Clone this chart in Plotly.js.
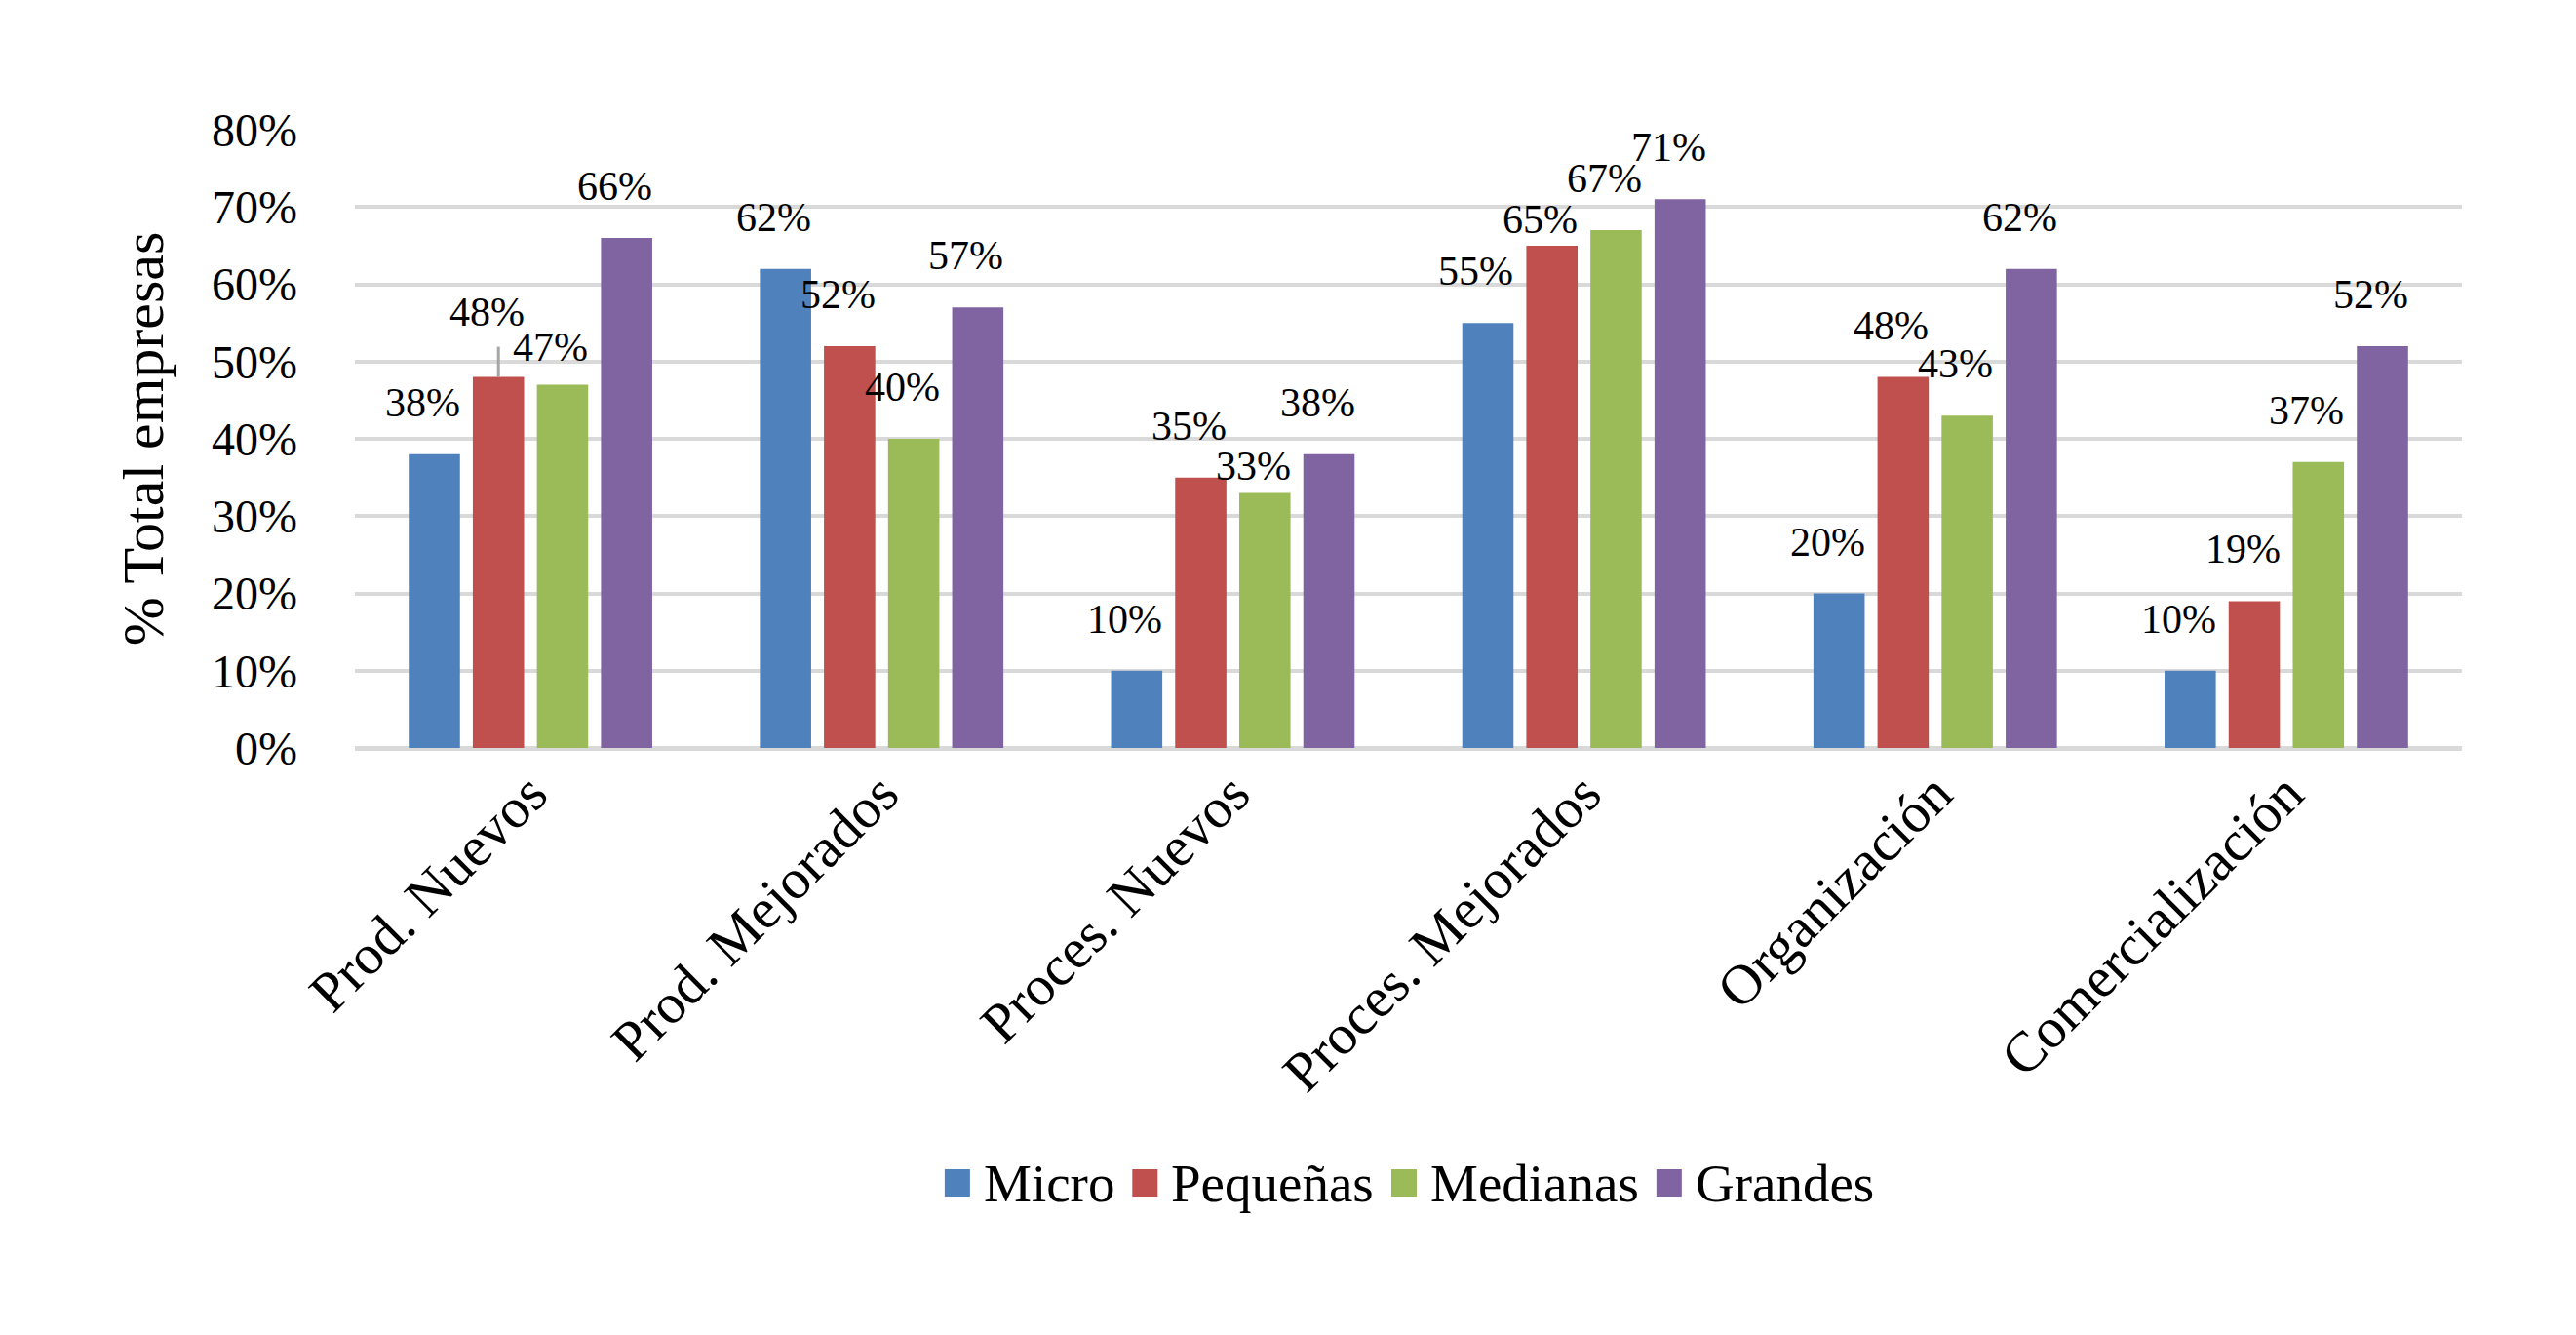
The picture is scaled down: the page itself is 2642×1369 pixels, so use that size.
<!DOCTYPE html>
<html>
<head>
<meta charset="utf-8">
<script src="https://cdn.plot.ly/plotly-3.0.1.min.js"></script>
<style>
  html, body { margin: 0; padding: 0; background: #ffffff; }
  #chart { width: 2642px; height: 1369px; }
</style>
</head>
<body>
<div id="chart"></div>
<script>
// ---- data ----
const categories = ["Prod. Nuevos", "Prod. Mejorados", "Proces. Nuevos", "Proces. Mejorados", "Organización", "Comercialización"];
const seriesNames = ["Micro", "Pequeñas", "Medianas", "Grandes"];
const micro    = [38, 62, 10, 55, 20, 10];
const pequenas = [48, 52, 35, 65, 48, 19];
const medianas = [47, 40, 33, 67, 43, 37];
const grandes  = [66, 57, 38, 71, 62, 52];
const yTickValues = [0, 10, 20, 30, 40, 50, 60, 70, 80];

// ---- style ----
const W = 2642, H = 1369;
const M = { l: 364, r: 117, t: 133, b: 602 };
const colors = ["#4F81BD", "#C0504D", "#9BBB59", "#8064A2"];
const FONT = "Liberation Serif, Times New Roman, serif";
const bargap = 0.27;
const bargroupgap = 0.2;
const labelLift = 53;          // px, label centre above bar top
const labelShiftX = -12;       // px
const liftOverrides = {        // manually moved labels in the original
  "Pequeñas|Prod. Nuevos": 67,
  "Medianas|Prod. Nuevos": 39,
  "Medianas|Proces. Nuevos": 27,
  "Pequeñas|Proces. Mejorados": 27
};
const leaderLines = ["Pequeñas|Prod. Nuevos"];
const leaderLength = 31;       // px

// legend styling (px)
const LEG = { fontSize: 55, swatchW: 26, swatchH: 28, textGap: 12, itemGap: 20, centerY: 1213 };

const allSeries = [micro, pequenas, medianas, grandes];

const traces = allSeries.map((vals, i) => ({
  type: "bar",
  name: seriesNames[i],
  x: categories,
  y: vals,
  marker: { color: colors[i] },
  hoverinfo: "skip",
  showlegend: false
}));

const n = allSeries.length;
const slot = (1 - bargap) / n;
const annotations = [];
const shapes = [];
allSeries.forEach((vals, i) => {
  const off = (i - (n - 1) / 2) * slot;
  vals.forEach((v, j) => {
    const key = seriesNames[i] + "|" + categories[j];
    const lift = liftOverrides[key] !== undefined ? liftOverrides[key] : labelLift;
    annotations.push({
      x: j + off, y: v, xref: "x", yref: "y",
      text: v + "%",
      showarrow: false,
      xanchor: "center", yanchor: "middle",
      xshift: labelShiftX, yshift: lift,
      font: { family: FONT, size: 42, color: "#000000" }
    });
    if (leaderLines.includes(key)) {
      shapes.push({
        type: "line", xref: "x", yref: "y",
        ysizemode: "pixel", yanchor: v,
        x0: j + off, x1: j + off, y0: 0, y1: leaderLength,
        line: { color: "#a6a6a6", width: 3 }
      });
    }
  });
});

// ---- custom legend (larger swatches like the original) ----
const plotW = W - M.l - M.r, plotH = H - M.t - M.b;
const pxToPaperX = px => (px - M.l) / plotW;
const pxToPaperY = py => (H - M.b - py) / plotH;
const ctx = document.createElement("canvas").getContext("2d");
ctx.font = LEG.fontSize + "px 'Liberation Serif'";
const textW = seriesNames.map(s => ctx.measureText(s).width);
const itemW = textW.map(w => LEG.swatchW + LEG.textGap + w);
const totalW = itemW.reduce((a, b) => a + b, 0) + LEG.itemGap * (n - 1);
let cursor = M.l + plotW / 2 - totalW / 2;
seriesNames.forEach((name, i) => {
  shapes.push({
    type: "rect", xref: "paper", yref: "paper",
    x0: pxToPaperX(cursor), x1: pxToPaperX(cursor + LEG.swatchW),
    y0: pxToPaperY(LEG.centerY + LEG.swatchH / 2), y1: pxToPaperY(LEG.centerY - LEG.swatchH / 2),
    fillcolor: colors[i], line: { width: 0 }
  });
  annotations.push({
    xref: "paper", yref: "paper",
    x: pxToPaperX(cursor + LEG.swatchW + LEG.textGap), y: pxToPaperY(LEG.centerY),
    xanchor: "left", yanchor: "middle",
    text: name, showarrow: false,
    font: { family: FONT, size: LEG.fontSize, color: "#000000" }
  });
  cursor += itemW[i] + LEG.itemGap;
});

const layout = {
  width: W, height: H,
  paper_bgcolor: "#ffffff", plot_bgcolor: "#ffffff",
  margin: M,
  barmode: "group",
  bargap: bargap,
  bargroupgap: bargroupgap,
  showlegend: false,
  xaxis: {
    type: "category",
    tickangle: -45,
    tickfont: { family: FONT, size: 58, color: "#000000" },
    showgrid: false,
    showline: false,
    ticks: "",
    ticklabelstandoff: 0,
    fixedrange: true
  },
  yaxis: {
    range: [0, 80],
    tickvals: yTickValues,
    ticktext: yTickValues.map(v => v + "%"),
    tickfont: { family: FONT, size: 48, color: "#000000" },
    showgrid: true,
    gridcolor: "#d9d9d9",
    gridwidth: 4,
    zeroline: true,
    zerolinecolor: "#d9d9d9",
    zerolinewidth: 5,
    showline: false,
    ticks: "",
    ticklabelstandoff: 58,
    title: { text: "% Total empresas", font: { family: FONT, size: 60, color: "#000000" }, standoff: 30 },
    fixedrange: true
  },
  annotations: annotations,
  shapes: shapes
};

Plotly.newPlot("chart", traces, layout, { staticPlot: true, displayModeBar: false });
</script>
</body>
</html>
